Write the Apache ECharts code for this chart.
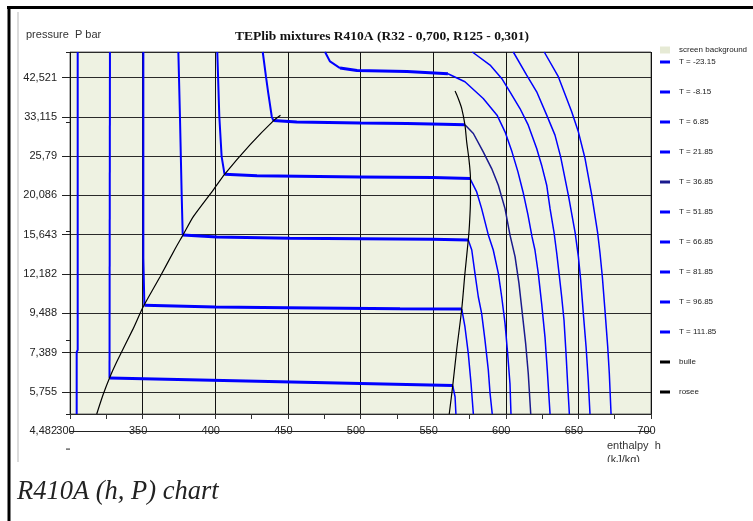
<!DOCTYPE html>
<html><head><meta charset="utf-8">
<script src="https://cdn.jsdelivr.net/npm/echarts@6/dist/echarts.min.js"></script>
<style>html,body{margin:0;padding:0;background:#fff;}#c{width:753px;height:521px;}</style>
</head><body><div id="c"></div>
<script>
// ---------------- DATA ----------------
const temperatureLabels = ['T = -23.15','T = -8.15','T = 6.85','T = 21.85','T = 36.85','T = 51.85','T = 66.85','T = 81.85','T = 96.85','T = 111.85'];
const pressureTickLabels = ['4,482','5,755','7,389','9,488','12,182','15,643','20,086','25,79','33,115','42,521'];
const enthalpyRange = [300, 700];
const pressureRange = [5, 50];

// isotherms, [h kJ/kg, P bar]; liquid branch, two-phase plateau, vapour branch
const liquidLines = [
  [[305.3,50],[305.3,7.51],[304.6,7.41],[304.6,5]],
  [[327.5,50],[327.2,6.29]],
  [[350.5,50],[350.5,13.49],[351.2,13.32],[351.2,9.98]],
  [[374.6,50],[375.7,33.17],[376.9,20.06],[377.6,15.62]],
  [[401.4,50],[402.8,33.17],[404.4,25.71],[406.4,22.96]],
  [[432.7,50],[434.9,42.8],[436.5,38.5],[438.9,33.17],[440.0,32.33]],
  [[475.6,50],[479.0,47.08],[485.9,45.15]],
  [], [], []
];
const plateauLines = [
  [],
  [[327.2,6.29],[444.6,6.14],[563.5,5.99]],
  [[351.2,9.98],[399.8,9.87],[449.4,9.83],[488.0,9.80],[527.2,9.76],[569.7,9.75]],
  [[377.6,15.62],[401.2,15.42],[451.5,15.29],[549.9,15.19],[574.2,15.13]],
  [[406.4,22.96],[428.7,22.74],[499.7,22.59],[549.9,22.49],[575.4,22.35]],
  [[440.0,32.33],[456.1,32.01],[499.7,31.85],[532.0,31.75],[557.0,31.6],[571.9,31.46]],
  [[485.9,45.15],[497.6,44.46],[532.0,44.18],[560.2,43.54]],
  [], [], []
];
const vapourLines = [
  [],
  [[563.5,5.99],[565.1,5.58],[565.7,5]],
  [[569.7,9.75],[571.9,8.71],[574.2,7.35],[576.1,6.07],[577.7,5]],
  [[574.2,15.13],[576.6,14.19],[578.8,12.23],[581.1,10.54],[583.4,9.48],[585.7,8.0],[588.0,6.61],[589.2,5.7],[590.7,5]],
  [[575.4,22.35],[580.0,20.53],[583.4,18.46],[588.0,15.62],[591.4,14.19],[594.9,12.23],[597.2,10.54],[599.5,8.9],[601.3,7.35],[602.9,6.07],[603.6,5]],
  [[571.9,31.46],[577.7,29.77],[584.5,26.49],[590.3,23.82],[594.9,21.43],[599.5,18.46],[602.9,15.62],[606.4,13.6],[609.1,11.48],[611.4,9.48],[613.7,7.83],[615.5,6.47],[617.2,5]],
  [[560.2,43.54],[571.9,41.38],[584.5,37.2],[594.0,33.46],[599.5,30.09],[604.3,26.49],[608.4,23.32],[611.9,20.53],[615.3,17.74],[618.1,15.42],[620.1,14.19],[622.4,12.23],[624.7,10.11],[627.0,8.17],[628.6,6.61],[630.5,5]],
  [[577.0,50],[589.2,46.0],[597.2,42.26],[602.9,38.82],[609.8,34.9],[615.5,31.4],[621.3,27.05],[624.7,24.34],[628.2,21.43],[630.5,18.46],[633.2,15.91],[635.1,13.9],[636.7,12.23],[638.5,10.54],[640.1,9.09],[641.5,7.35],[642.6,6.07],[643.8,5]],
  [[605.2,50],[614.4,43.18],[621.3,38.82],[628.2,33.46],[633.9,29.47],[637.8,25.66],[643.1,20.11],[647.7,15.91],[650.0,13.6],[651.6,11.72],[653.4,9.48],[655.3,7.67],[656.8,6.2],[658.0,5]],
  [[626.5,50],[636.2,42.72],[645.4,34.17],[650.0,30.09],[654.6,25.39],[659.2,20.11],[663.2,15.91],[664.9,13.9],[666.5,11.97],[668.3,9.68],[670.2,7.67],[671.3,6.47],[672.5,5]]
];
const bubbleCurve = [[318.4,5],[322.7,5.64],[327.2,6.29],[332.2,6.97],[343.6,8.62],[350.3,9.87],[362.0,11.97],[372.3,14.28],[377.6,15.56],[384.9,17.54],[398.7,20.8],[406.4,22.96],[423.9,27.7],[440.0,32.27],[444.9,33.42]];
const dewCurve = [[561.1,5],[563.5,5.99],[566.2,7.51],[569.7,9.75],[571.9,12.23],[574.2,15.13],[575.0,16.64],[575.7,19.51],[575.7,22.35],[574.7,25.18],[573.1,28.23],[571.9,31.46],[569.7,34.9],[567.3,37.2],[565.1,38.99]];

// ---------------- CHART ----------------
const BLUE = '#0000ff';
const DARK = '#1a1a8e';
const SANS = 'Liberation Sans';
const SERIF = 'Liberation Serif';
const STEP = 0.25;

const series = [{ name: 'screen background', type: 'line', data: [], itemStyle: { color: '#e6ead5' }, lineStyle: { color: '#e6ead5' } }];
const parts = [[liquidLines, 2], [plateauLines, 3], [vapourLines, 1.5]];
temperatureLabels.forEach((name, i) => {
  parts.forEach(([arr, w], p) => {
    if (!arr[i].length) return;
    const col = (i === 5 && p === 2) ? DARK : BLUE;
    series.push({
      name, type: 'line', data: arr[i], symbol: 'none', silent: true,
      lineStyle: { color: col, width: w }, itemStyle: { color: BLUE }, z: 3
    });
  });
});
series.push({ name: 'bulle', type: 'line', data: bubbleCurve, symbol: 'none', smooth: 0.2, lineStyle: { color: '#000', width: 1.2 }, itemStyle: { color: '#000' }, z: 4 });
series.push({ name: 'rosee', type: 'line', data: dewCurve, symbol: 'none', smooth: 0.3, lineStyle: { color: '#000', width: 1.2 }, itemStyle: { color: '#000' }, z: 4 });

const legendItems = temperatureLabels.concat(['bulle', 'rosee']).map((n) => {
  const o = { name: n, icon: 'rect' };
  if (n === 'T = 36.85') o.itemStyle = { color: DARK };
  return o;
});

const chart = echarts.init(document.getElementById('c'), null, { renderer: 'canvas' });
chart.setOption({
  animation: false,
  backgroundColor: '#ffffff',
  title: {
    text: 'TEPlib mixtures R410A (R32 - 0,700, R125 - 0,301)',
    left: 235, top: 30, padding: 0,
    textStyle: { fontFamily: SERIF, fontWeight: 'bold', fontSize: 13.5, color: '#111' }
  },
  legend: [
    { data: [{ name: 'screen background', icon: 'rect' }], orient: 'vertical', left: 660, top: 46, padding: 0,
      itemWidth: 10, itemHeight: 7, selectedMode: false,
      textStyle: { fontFamily: SANS, fontSize: 8, color: '#222', padding: [0, 0, 0, 4] } },
    { data: legendItems, orient: 'vertical', left: 660, top: 57, padding: 0,
      itemWidth: 10, itemHeight: 3, itemGap: 20, selectedMode: false,
      textStyle: { fontFamily: SANS, fontSize: 8, lineHeight: 10, color: '#222', padding: [0, 0, 0, 4] } }
  ],
  grid: { left: 70, top: 52, width: 581, height: 362, show: true, backgroundColor: '#eef2e2', borderColor: '#666', borderWidth: 1, containLabel: false },
  xAxis: [
    { type: 'value', position: 'bottom', min: enthalpyRange[0], max: enthalpyRange[1], interval: 50, offset: 17,
      axisLine: { show: true, onZero: false, lineStyle: { color: '#222', width: 1 } },
      axisTick: { show: false },
      axisLabel: { margin: 0, verticalAlign: 'middle', fontFamily: SANS, fontSize: 11, color: '#222', padding: [0, 9, 0, 0], showMinLabel: true, showMaxLabel: true },
      splitLine: { show: true, lineStyle: { color: '#111', width: 1 } } },
    { type: 'value', position: 'bottom', min: enthalpyRange[0], max: enthalpyRange[1], interval: 25, offset: 0,
      axisLine: { show: false, onZero: false },
      axisTick: { show: true, length: 5, lineStyle: { color: '#333' } },
      axisLabel: { show: false }, splitLine: { show: false } }
  ],
  yAxis: [
    { type: 'log', logBase: Math.exp(STEP), position: 'left', min: pressureRange[0], max: pressureRange[1],
      axisLine: { show: false },
      axisTick: { show: true, length: 8, lineStyle: { color: '#222' } },
      axisLabel: { margin: 13, fontFamily: SANS, fontSize: 11, color: '#222', showMinLabel: false, showMaxLabel: false,
        formatter: (v) => { const k = Math.round(Math.log(v) / STEP) - 6; return pressureTickLabels[k] || ''; } },
      splitLine: { show: true, lineStyle: { color: '#2a2a2a', width: 1 } } },
    { type: 'log', logBase: 2, position: 'left', min: pressureRange[0], max: pressureRange[1],
      axisLine: { show: false }, axisTick: { show: true, length: 4, lineStyle: { color: '#222' } },
      axisLabel: { show: false }, splitLine: { show: false } }
  ],
  series
});

const y4482 = chart.convertToPixel({ yAxisIndex: 0 }, Math.exp(6 * STEP));
const y4 = chart.convertToPixel({ yAxisIndex: 0 }, 4);
chart.setOption({
  graphic: [
    { type: 'rect', shape: { x: 7, y: 6, width: 746, height: 3 }, style: { fill: '#000' }, silent: true },
    { type: 'rect', shape: { x: 7.5, y: 6, width: 3, height: 515 }, style: { fill: '#000' }, silent: true },
    { type: 'rect', shape: { x: 17, y: 12, width: 2, height: 450 }, style: { fill: '#dcdcdc' }, silent: true },
    { type: 'text', x: 26, y: 34.5, style: { text: 'pressure  P bar', font: '11px ' + SANS, fill: '#333', textVerticalAlign: 'middle' }, silent: true },
    { type: 'text', x: 57, y: y4482, style: { text: pressureTickLabels[0], font: '11px ' + SANS, fill: '#222', textAlign: 'right', textVerticalAlign: 'middle' }, silent: true },
    { type: 'line', shape: { x1: 66, y1: y4, x2: 70, y2: y4 }, style: { stroke: '#222', lineWidth: 1 }, silent: true },
    { type: 'text', x: 607, y: 446, style: { text: 'enthalpy  h', font: '11px ' + SANS, fill: '#333', textVerticalAlign: 'middle' }, silent: true },
    { type: 'text', x: 607, y: 460, style: { text: '(kJ/kg)', font: '11px ' + SANS, fill: '#333', textVerticalAlign: 'middle' }, silent: true, z: 1 },
    { type: 'rect', shape: { x: 600, y: 462, width: 80, height: 12 }, style: { fill: '#fff' }, silent: true, z: 2 },
    { type: 'text', x: 17, y: 492, style: { text: 'R410A (h, P) chart', font: 'italic 26.5px ' + SERIF, fill: '#222', textVerticalAlign: 'middle' }, silent: true }
  ]
});
</script>
</body></html>
